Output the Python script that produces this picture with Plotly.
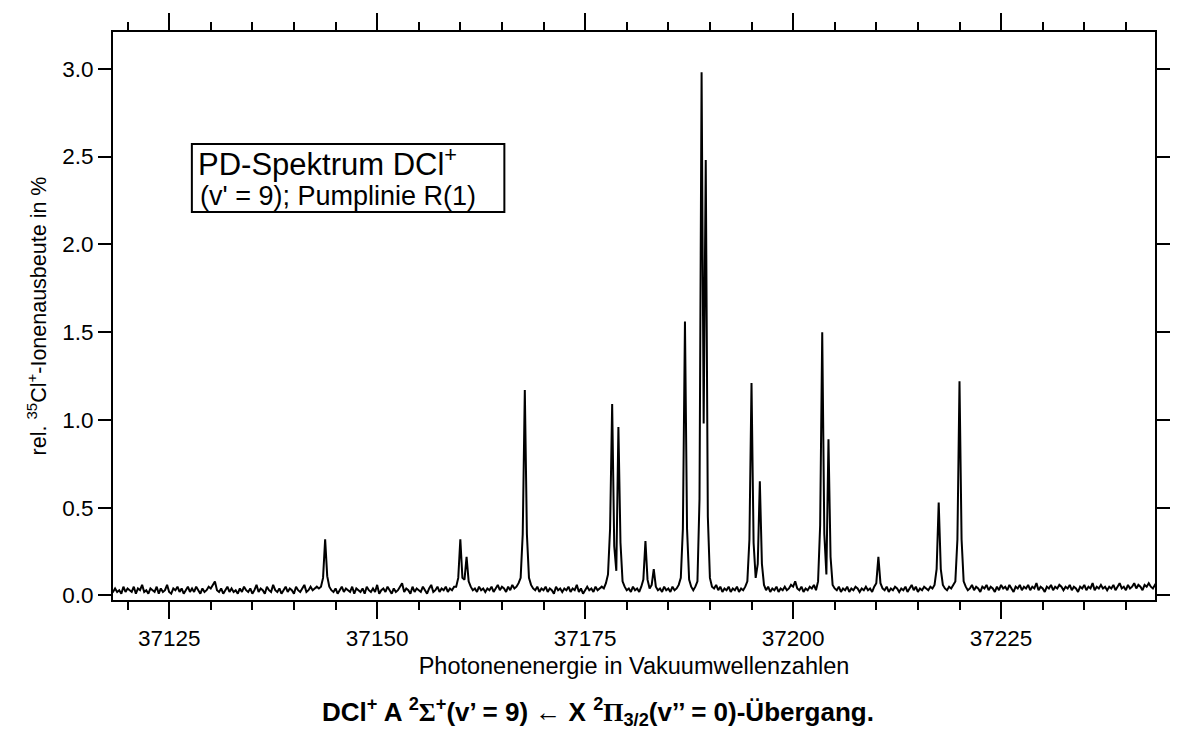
import plotly.graph_objects as go

# Spectrum sampled every 0.25 cm^-1; each segment covers 5 cm^-1 starting at segment_start
step = 0.25
segment_start = [37118, 37123, 37128, 37133, 37138, 37143, 37148, 37153, 37158, 37163,
                 37168, 37173, 37178, 37183, 37188, 37193, 37198, 37203, 37208, 37213,
                 37218, 37223, 37228, 37233, 37238, 37243]
segment_values = [
    [0.01,0.02,0.04,0.02,0.03,0.01,0.05,0.02,0.04,0.03,0.02,0.05,0.01,0.04,0.03,0.06,0.02,0.03,0.01,0.04],
    [0.03,0.02,0.05,0.01,0.04,0.02,0.03,0.06,0.02,0.01,0.04,0.03,0.05,0.02,0.04,0.01,0.03,0.05,0.02,0.04],
    [0.02,0.05,0.03,0.01,0.04,0.02,0.03,0.05,0.04,0.06,0.08,0.03,0.02,0.04,0.01,0.03,0.05,0.02,0.04,0.02],
    [0.03,0.01,0.04,0.02,0.05,0.03,0.02,0.04,0.01,0.03,0.06,0.02,0.04,0.03,0.01,0.05,0.03,0.02,0.06,0.03],
    [0.02,0.04,0.01,0.03,0.05,0.02,0.04,0.03,0.01,0.05,0.03,0.02,0.04,0.06,0.02,0.03,0.05,0.03,0.04,0.05],
    [0.04,0.05,0.10,0.32,0.11,0.05,0.03,0.02,0.04,0.01,0.03,0.05,0.02,0.04,0.03,0.02,0.05,0.01,0.04,0.03],
    [0.02,0.04,0.01,0.05,0.03,0.02,0.04,0.02,0.06,0.01,0.03,0.04,0.02,0.05,0.03,0.01,0.04,0.02,0.03,0.05],
    [0.07,0.02,0.04,0.03,0.01,0.05,0.02,0.04,0.03,0.02,0.05,0.03,0.01,0.04,0.06,0.02,0.03,0.05,0.02,0.04],
    [0.03,0.05,0.02,0.04,0.03,0.05,0.05,0.10,0.32,0.10,0.09,0.22,0.08,0.05,0.03,0.04,0.02,0.05,0.03,0.04],
    [0.02,0.04,0.03,0.05,0.02,0.04,0.06,0.03,0.05,0.04,0.02,0.05,0.03,0.06,0.04,0.05,0.07,0.10,0.35,1.17],
    [0.35,0.10,0.06,0.04,0.03,0.05,0.02,0.04,0.03,0.05,0.02,0.04,0.03,0.01,0.05,0.03,0.04,0.02,0.04,0.03],
    [0.05,0.02,0.04,0.03,0.06,0.02,0.04,0.01,0.03,0.05,0.03,0.04,0.02,0.05,0.03,0.04,0.05,0.04,0.07,0.12],
    [0.38,1.09,0.28,0.14,0.96,0.30,0.08,0.05,0.03,0.04,0.02,0.05,0.03,0.04,0.02,0.05,0.09,0.31,0.09,0.04],
    [0.06,0.15,0.05,0.03,0.04,0.02,0.05,0.03,0.04,0.02,0.05,0.03,0.04,0.06,0.10,0.38,1.56,0.38,0.09,0.05],
    [0.03,0.05,0.08,0.55,2.98,0.98,2.48,0.45,0.10,0.05,0.04,0.06,0.03,0.05,0.02,0.04,0.03,0.05,0.02,0.04],
    [0.03,0.05,0.02,0.04,0.03,0.05,0.08,0.32,1.21,0.30,0.10,0.18,0.65,0.18,0.06,0.03,0.05,0.02,0.04,0.03],
    [0.05,0.02,0.04,0.03,0.05,0.03,0.04,0.06,0.05,0.08,0.04,0.03,0.05,0.02,0.04,0.03,0.05,0.04,0.06,0.03],
    [0.08,0.40,1.50,0.35,0.12,0.89,0.22,0.06,0.04,0.03,0.05,0.02,0.04,0.03,0.05,0.02,0.04,0.03,0.05,0.04],
    [0.02,0.04,0.03,0.05,0.03,0.04,0.02,0.05,0.07,0.22,0.07,0.04,0.03,0.05,0.02,0.04,0.03,0.05,0.04,0.02],
    [0.04,0.03,0.05,0.02,0.04,0.06,0.03,0.05,0.02,0.04,0.03,0.05,0.04,0.03,0.05,0.04,0.06,0.15,0.53,0.15],
    [0.06,0.04,0.03,0.05,0.04,0.06,0.08,0.32,1.22,0.32,0.08,0.05,0.03,0.04,0.06,0.03,0.05,0.04,0.02,0.05],
    [0.04,0.06,0.03,0.05,0.04,0.02,0.05,0.03,0.06,0.04,0.05,0.03,0.06,0.04,0.02,0.05,0.04,0.06,0.03,0.05],
    [0.04,0.06,0.03,0.05,0.04,0.07,0.03,0.05,0.04,0.02,0.05,0.04,0.06,0.03,0.05,0.04,0.06,0.05,0.03,0.05],
    [0.04,0.06,0.03,0.05,0.04,0.02,0.05,0.04,0.06,0.03,0.05,0.04,0.07,0.03,0.05,0.04,0.06,0.04,0.05,0.03],
    [0.05,0.04,0.06,0.03,0.05,0.07,0.04,0.05,0.03,0.06,0.04,0.05,0.07,0.04,0.06,0.05,0.03,0.06,0.05,0.07],
    [0.05,0.04,0.06,0.05,0.07],
]

x_ticks = [37125, 37150, 37175, 37200, 37225]
y_ticks = [0.0, 0.5, 1.0, 1.5, 2.0, 2.5, 3.0]

wavenumber = []
signal = []
for start, vals in zip(segment_start, segment_values):
    for i, v in enumerate(vals):
        wavenumber.append(start + step * i)
        signal.append(v)

FONT = "Liberation Sans, Arial, sans-serif"
W, H = 1181, 742
L, R, T, B = 113, 1170, 32, 600   # plot-area pixel edges


def px(xp):
    return (xp - L) / (R - L)


def py(yp):
    return (B - yp) / (B - T)


fig = go.Figure()
fig.add_trace(go.Scatter(x=wavenumber, y=signal, mode="lines",
                         line=dict(color="black", width=2), hoverinfo="skip",
                         showlegend=False))

axis_common = dict(showline=True, linecolor="black", linewidth=2, mirror="allticks",
                   ticks="outside", tickcolor="black", tickwidth=2, showgrid=False,
                   zeroline=False, tickfont=dict(family=FONT, size=22.5, color="black"))

fig.update_layout(
    width=W, height=H,
    margin=dict(l=L, r=W - R, t=T, b=H - B),
    paper_bgcolor="white", plot_bgcolor="white",
    xaxis=dict(range=[37118.25, 37243.5], tickmode="array", tickvals=x_ticks,
               ticktext=[str(v) for v in x_ticks], ticklen=17,
               minor=dict(dtick=5, tick0=37125, ticklen=8, tickwidth=2, tickcolor="black",
                          ticks="outside", showgrid=False),
               title=dict(text="Photonenenergie in Vakuumwellenzahlen",
                          font=dict(family=FONT, size=23.5, color="black"), standoff=8),
               **axis_common),
    yaxis=dict(range=[-0.026, 3.21], tickmode="array", tickvals=y_ticks,
               ticktext=[f"{v:.1f}" for v in y_ticks], ticklen=13,
               title=dict(text="rel. <sup>35</sup>Cl<sup>+</sup>-Ionenausbeute in %",
                          font=dict(family=FONT, size=21.5, color="black"), standoff=10),
               **axis_common),
)

# legend-like text box
fig.add_shape(type="rect", xref="paper", yref="paper",
              x0=px(193), x1=px(510), y0=py(212), y1=py(144),
              line=dict(color="black", width=2), fillcolor="white", layer="above")
fig.add_annotation(xref="paper", yref="paper", x=px(197), y=py(162),
                   xanchor="left", yanchor="middle", showarrow=False,
                   text="PD-Spektrum DCl<sup>+</sup>",
                   font=dict(family=FONT, size=31, color="black"))
fig.add_annotation(xref="paper", yref="paper", x=px(199), y=py(196),
                   xanchor="left", yanchor="middle", showarrow=False,
                   text="(v' = 9); Pumplinie R(1)",
                   font=dict(family=FONT, size=27, color="black"))

fig.add_annotation(
    xref="paper", yref="paper", x=0.465, y=py(712),
    xanchor="center", yanchor="middle", showarrow=False,
    text=("<b>DCl<sup>+</sup> A <sup>2</sup><span style='font-family:Liberation Serif'>Σ</span><sup>+</sup>"
          "(v’ = 9) ← X <sup>2</sup><span style='font-family:Liberation Serif'>Π</span>"
          "<sub>3/2</sub>(v’’ = 0)-Übergang.</b>"),
    font=dict(family="Liberation Sans Narrow, Arial Narrow, Liberation Sans, sans-serif",
              size=26, color="black"))

fig.write_html("out.html")
